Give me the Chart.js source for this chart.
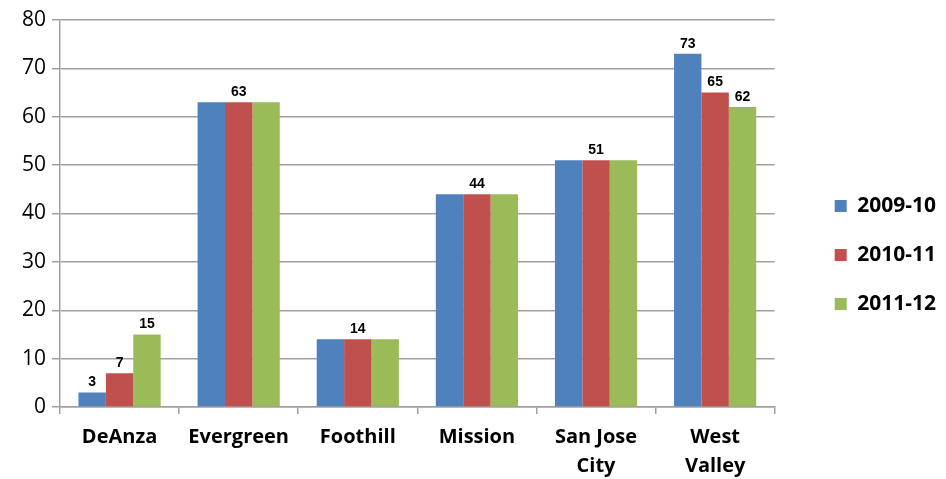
<!DOCTYPE html>
<html><head><meta charset="utf-8">
<script src="https://cdn.jsdelivr.net/npm/chart.js@4"></script>
<style>html,body{margin:0;padding:0;background:#fff}#wrap{width:946px;height:479px}</style>
</head><body><div id="wrap"><canvas id="c"></canvas></div>
<script>
const categories = [["DeAnza"], ["Evergreen"], ["Foothill"], ["Mission"], ["San Jose", "City"], ["West", "Valley"]];
const seriesNames = ["2009-10", "2010-11", "2011-12"];
const values2009 = [3, 63, 14, 44, 51, 73];
const values2010 = [7, 63, 14, 44, 51, 65];
const values2011 = [15, 63, 14, 44, 51, 62];
const labels2009 = [true, false, false, false, false, true];
const labels2010 = [true, true, true, true, true, true];
const labels2011 = [true, false, false, false, false, true];
const yTicks = [0, 10, 20, 30, 40, 50, 60, 70, 80];
const colors = ["#4F81BD", "#C0504D", "#9BBB59"];

const valueLabels = {
  id: 'valueLabels',
  afterDatasetsDraw(chart) {
    const ctx = chart.ctx;
    const flags = [labels2009, labels2010, labels2011];
    ctx.save();
    ctx.font = 'bold 14px "Liberation Sans", Arial, sans-serif';
    ctx.fillStyle = '#000';
    ctx.textAlign = 'center';
    ctx.textBaseline = 'bottom';
    chart.data.datasets.forEach((ds, i) => {
      const meta = chart.getDatasetMeta(i);
      meta.data.forEach((bar, j) => {
        if (flags[i][j]) ctx.fillText(String(ds.data[j]), bar.x, bar.y - 3);
      });
    });
    ctx.restore();
  }
};

new Chart(document.getElementById('c'), {
  type: 'bar',
  data: {
    labels: categories,
    datasets: [
      { label: seriesNames[0], data: values2009, backgroundColor: colors[0] },
      { label: seriesNames[1], data: values2010, backgroundColor: colors[1] },
      { label: seriesNames[2], data: values2011, backgroundColor: colors[2] }
    ]
  },
  options: {
    responsive: true,
    maintainAspectRatio: false,
    animation: false,
    layout: { padding: { top: 20, right: 0, left: 16, bottom: 0 } },
    datasets: { bar: { categoryPercentage: 0.69, barPercentage: 1.0 } },
    plugins: {
      legend: {
        position: 'right',
        title: { display: true, text: ' ', font: { size: 8, lineHeight: 1.4 }, padding: 0 },
        labels: {
          boxWidth: 12, boxHeight: 12, padding: 28,
          color: '#000',
          font: { family: '"Open Sans", sans-serif', size: 21, weight: 'bold' }
        }
      },
      tooltip: { enabled: false }
    },
    scales: {
      x: {
        grid: { offset: true, drawOnChartArea: false, color: '#A0A0A0', lineWidth: 1.5, tickLength: 7 },
        border: { color: '#A0A0A0', width: 1.5 },
        ticks: { color: '#000', font: { family: '"Open Sans", sans-serif', size: 20, weight: 'bold', lineHeight: 1.45 }, padding: 9, maxRotation: 0 },
        afterFit(axis) { axis.height = 72; }
      },
      y: {
        min: 0, max: 80,
        afterBuildTicks(axis) { axis.ticks = yTicks.map(v => ({ value: v })); },
        grid: { color: '#A0A0A0', lineWidth: 1.5, tickLength: 8 },
        border: { color: '#A0A0A0', width: 1.5 },
        ticks: { color: '#000', font: { family: '"Open Sans", sans-serif', size: 21 }, padding: 6 }
      },
      gap: {
        position: 'right', min: 0, max: 80,
        grid: { display: false, drawOnChartArea: false },
        border: { display: false },
        ticks: { display: false },
        afterFit(axis) { axis.width = 32; }
      }
    }
  },
  plugins: [valueLabels]
});
</script>
</body></html>
